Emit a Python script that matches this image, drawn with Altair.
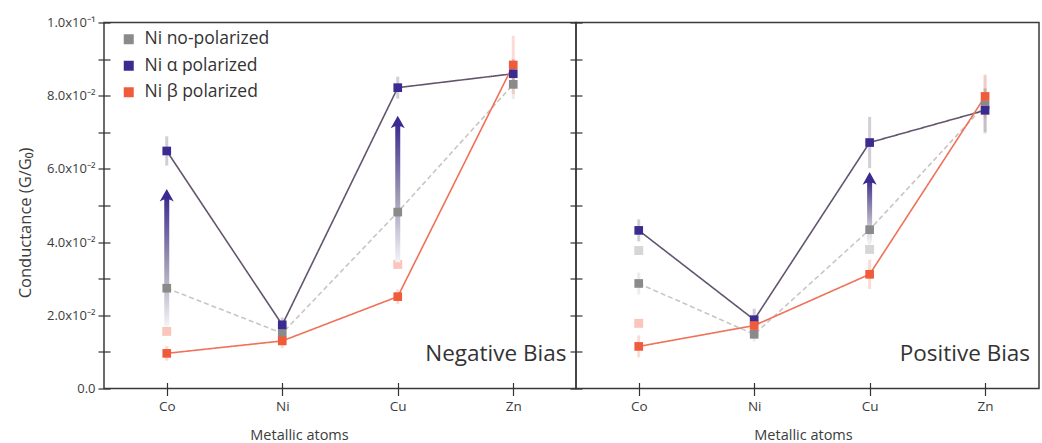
import altair as alt
import pandas as pd

metals = ["Co", "Ni", "Cu", "Zn"]
series = ["Ni no-polarized", "Ni α polarized", "Ni β polarized"]

# Negative bias panel values
neg_nopol = [0.0274, 0.0151, 0.0482, 0.0831]
neg_alpha = [0.0649, 0.0174, 0.0822, 0.0860]
neg_beta = [0.0096, 0.0130, 0.0251, 0.0884]
neg_nopol_err = [0.003, 0.002, 0.003, 0.004]
neg_alpha_err = [0.004, 0.002, 0.003, 0.004]
neg_beta_err = [0.002, 0.002, 0.002, 0.008]

# Positive bias panel values
pos_nopol = [0.0287, 0.0148, 0.0434, 0.0775]
pos_alpha = [0.0432, 0.0188, 0.0672, 0.0760]
pos_beta = [0.0115, 0.0172, 0.0312, 0.0798]
pos_nopol_err = [0.003, 0.002, 0.004, 0.008]
pos_alpha_err = [0.003, 0.003, 0.007, 0.006]
pos_beta_err = [0.003, 0.002, 0.004, 0.006]

# faded (earlier) positions
neg_ghost_metal = ["Co", "Cu"]
neg_ghost_series = ["Ni β polarized", "Ni β polarized"]
neg_ghost_value = [0.0156, 0.0339]
pos_ghost_metal = ["Co", "Co", "Cu"]
pos_ghost_series = ["Ni β polarized", "Ni no-polarized", "Ni no-polarized"]
pos_ghost_value = [0.0178, 0.0377, 0.0380]

# shift arrows
neg_arrow_metal = ["Co", "Cu"]
neg_arrow_from = [0.0170, 0.0345]
neg_arrow_to = [0.0525, 0.0725]
pos_arrow_metal = ["Cu"]
pos_arrow_from = [0.0400]
pos_arrow_to = [0.0571]

# panel labels
panel_text = ["Negative Bias", "Positive Bias"]
panel_text_x = [3.46, 3.39]
panel_text_y = [0.0095, 0.0095]

y_tick_values = [0.0, 0.02, 0.04, 0.06, 0.08, 0.1]
y_tick_labels = ["0.0", "2.0x10⁻²", "4.0x10⁻²", "6.0x10⁻²", "8.0x10⁻²", "1.0x10⁻¹"]
y_minor_values = [0.01, 0.03, 0.05, 0.07, 0.09]

FONT = "Open Sans"
point_colors = ["#8a8a8a", "#3b2a8f", "#f05b3b"]
line_colors = ["#b9b2ab", "#4d3d5a", "#ee7158"]


def long_df(vals, errs):
    rows = []
    for s, v, e in zip(series, vals, errs):
        for i, m in enumerate(metals):
            rows.append({"idx": i, "metal": m, "series": s, "value": v[i], "err": e[i]})
    return pd.DataFrame(rows)


neg_df = long_df([neg_nopol, neg_alpha, neg_beta], [neg_nopol_err, neg_alpha_err, neg_beta_err])
pos_df = long_df([pos_nopol, pos_alpha, pos_beta], [pos_nopol_err, pos_alpha_err, pos_beta_err])

neg_ghost = pd.DataFrame({"idx": [metals.index(m) for m in neg_ghost_metal],
                          "series": neg_ghost_series, "value": neg_ghost_value})
pos_ghost = pd.DataFrame({"idx": [metals.index(m) for m in pos_ghost_metal],
                          "series": pos_ghost_series, "value": pos_ghost_value})
neg_arrows = pd.DataFrame({"idx": [metals.index(m) for m in neg_arrow_metal],
                           "y0": neg_arrow_from, "y1": neg_arrow_to})
pos_arrows = pd.DataFrame({"idx": [metals.index(m) for m in pos_arrow_metal],
                           "y0": pos_arrow_from, "y1": pos_arrow_to})

y_expr = "''"
for v, l in reversed(list(zip(y_tick_values, y_tick_labels))):
    y_expr = f"abs(datum.value - {v}) < 0.001 ? '{l}' : ({y_expr})"
x_expr = "[" + ",".join(f"'{m}'" for m in metals) + "][datum.value]"

all_y_ticks = sorted(y_tick_values + y_minor_values)

gradient = alt.Gradient(
    gradient="linear", x1=0, y1=1, x2=0, y2=0,
    stops=[alt.GradientStop(offset=0, color="#f4f3f6"),
           alt.GradientStop(offset=0.5, color="#9a93b3"),
           alt.GradientStop(offset=1, color="#3b2a8f")])

ARROW = "M0,-1L0.95,0.7Q0,0.1 -0.95,0.7Z"


def panel(df, ghost, arrows, text_i, width, x_max, first):
    xs = alt.Scale(domain=[-0.5, x_max], nice=False, zero=False)
    ys = alt.Scale(domain=[0, 0.1], nice=False, zero=False)
    xax = alt.Axis(values=list(range(len(metals))), labelExpr=x_expr, title="Metallic atoms",
                   offset=-6, tickSize=13, domain=False, grid=False, labelPadding=4,
                   titlePadding=15, titleX=(195 if first else 227), labelFontSize=13.5,
                   titleFontSize=14.5)
    if first:
        yax = alt.Axis(values=all_y_ticks, labelExpr=y_expr, title="Conductance (G/G₀)",
                       offset=-6, tickSize=12, domain=False, grid=False, labelPadding=3,
                       titlePadding=13, titleY=200, labelFontSize=13, titleFontSize=16.5)
    else:
        yax = alt.Axis(values=all_y_ticks, labels=False, title=None,
                       offset=-6, tickSize=12, domain=False, grid=False)

    X = alt.X("idx:Q", scale=xs, axis=xax)
    base = alt.Chart(df)

    err = base.transform_calculate(lo="datum.value - datum.err", hi="datum.value + datum.err").mark_rule(
        strokeWidth=3, opacity=0.25).encode(
        x=X, y=alt.Y("lo:Q", scale=ys, axis=yax), y2="hi:Q",
        stroke=alt.Stroke("series:N", scale=alt.Scale(domain=series, range=line_colors), legend=None))

    lines = base.mark_line().encode(
        x=X, y=alt.Y("value:Q", scale=ys, axis=yax),
        stroke=alt.Stroke("series:N", scale=alt.Scale(domain=series, range=line_colors), legend=None),
        strokeDash=alt.StrokeDash("series:N", scale=alt.Scale(domain=series, range=[[5, 3], [1, 0], [1, 0]]),
                                  legend=None),
        strokeWidth=alt.StrokeWidth("series:N", scale=alt.Scale(domain=series, range=[1.6, 1.6, 1.2]),
                                    legend=None),
        opacity=alt.Opacity("series:N", scale=alt.Scale(domain=series, range=[0.75, 1.0, 0.9]), legend=None))

    ghosts = alt.Chart(ghost).mark_square(size=80, opacity=0.35).encode(
        x=X, y=alt.Y("value:Q", scale=ys, axis=yax),
        fill=alt.Fill("series:N", scale=alt.Scale(domain=series, range=point_colors), legend=None))

    shafts = alt.Chart(arrows).mark_bar(size=5, color=gradient).encode(
        x=X, y=alt.Y("y0:Q", scale=ys, axis=yax), y2="y1:Q")
    heads = alt.Chart(arrows).mark_point(shape=ARROW, filled=True, size=220, color="#3b2a8f", opacity=1).encode(
        x=X, y=alt.Y("y1:Q", scale=ys, axis=yax))

    legend = alt.Legend(orient="none", legendX=16, legendY=8, title=None, symbolType="square",
                        symbolSize=100, labelFontSize=17.5, labelFont=FONT, labelColor="#333",
                        rowPadding=7.5, labelOffset=7, padding=0, symbolStrokeWidth=0) if first else None
    pts = base.mark_square(size=75, opacity=1).encode(
        x=X, y=alt.Y("value:Q", scale=ys, axis=yax),
        color=alt.Color("series:N", scale=alt.Scale(domain=series, range=point_colors), legend=legend))

    tdf = pd.DataFrame({"t": [panel_text[text_i]], "x": [panel_text_x[text_i]], "y": [panel_text_y[text_i]]})
    txt = alt.Chart(tdf).mark_text(align="right", baseline="middle", fontSize=22.5, font=FONT,
                                   color="#333").encode(
        x=alt.X("x:Q", scale=xs, axis=xax), y=alt.Y("y:Q", scale=ys, axis=yax), text="t:N")

    return alt.layer(err, lines, ghosts, shafts, heads, pts, txt).properties(width=width, height=366)


left = panel(neg_df, neg_ghost, neg_arrows, 0, 472, 3.5, True)
right = panel(pos_df, pos_ghost, pos_arrows, 1, 463, -0.5 + 463 / 118, False)

chart = alt.hconcat(left, right, spacing=0, bounds="flush").resolve_scale(
    color="independent").properties(
    padding={"left": 16, "top": 15.5, "right": 0, "bottom": 0},
    background="white",
).configure_view(stroke="#3a3a3a", strokeWidth=1.5).configure_axis(
    labelFont=FONT, titleFont=FONT, labelColor="#3c3c3c", titleColor="#3c3c3c",
    tickColor="#333", tickWidth=1.2, titleFontWeight="normal")

chart.save("out.html", embed_options={"renderer": "svg", "actions": False})
